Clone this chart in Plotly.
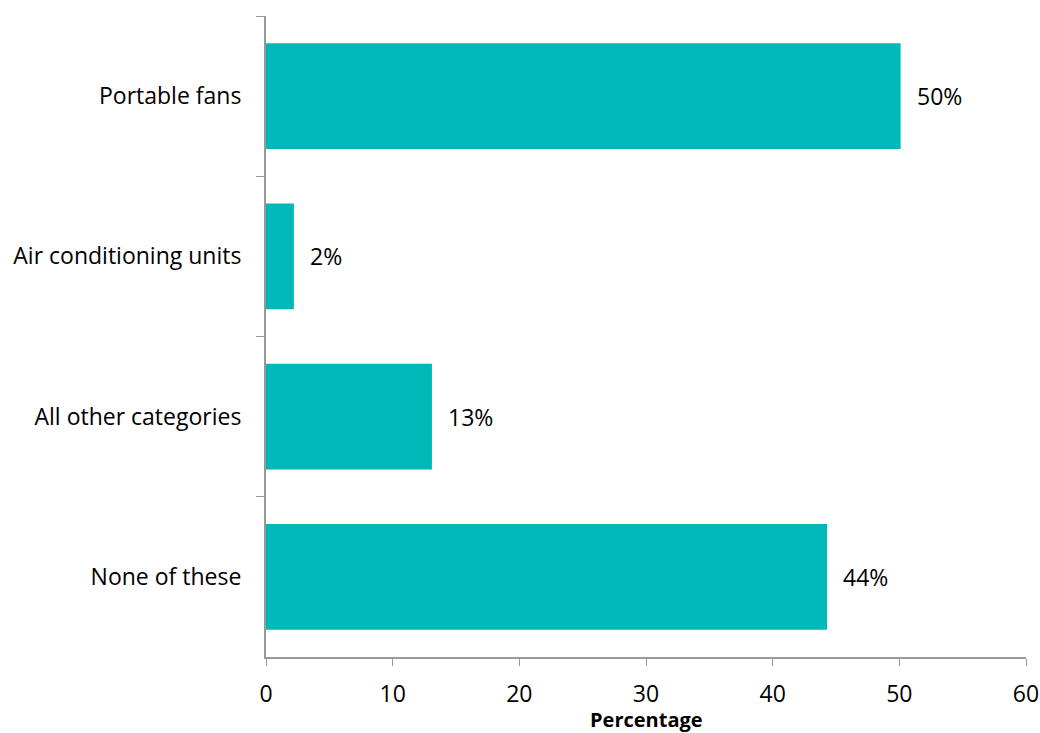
import plotly.graph_objects as go

categories = ["Portable fans", "Air conditioning units", "All other categories", "None of these"]
values = [50.1, 2.2, 13.1, 44.3]
labels = ["50%", "2%", "13%", "44%"]
x_ticks = [0, 10, 20, 30, 40, 50, 60]
x_title = "Percentage"

FONT = "Open Sans"
COLOR = "#00B8B8"
SIZE = 23

fig = go.Figure(go.Bar(
    y=categories,
    x=values,
    orientation="h",
    marker=dict(color=COLOR, line=dict(width=0)),
    width=0.66,
    cliponaxis=False,
))

for c, v, t in zip(categories, values, labels):
    fig.add_annotation(x=v, y=c, text=t, showarrow=False, xanchor="left",
                       xshift=14, font=dict(family=FONT, size=SIZE, color="#000000"))

fig.add_annotation(x=0.5, y=0, xref="paper", yref="paper", text="<b>" + x_title + "</b>",
                   showarrow=False, xanchor="center", yanchor="top", yshift=-47,
                   font=dict(family=FONT, size=20, color="#000000"))

fig.update_layout(
    width=1040, height=733,
    margin=dict(l=266, r=14, t=16, b=76),
    paper_bgcolor="white", plot_bgcolor="white",
    showlegend=False,
    font=dict(family=FONT, size=SIZE, color="#000000"),
    xaxis=dict(
        range=[0, 60], tickvals=x_ticks, ticks="outside", ticklen=7,
        tickcolor="#999999", showline=True, linecolor="#999999", linewidth=2,
        showgrid=False, zeroline=False, automargin=False,
        ticklabelstandoff=8,
    ),
    yaxis=dict(
        autorange="reversed", type="category", tickson="boundaries",
        ticks="outside", ticklen=8, tickcolor="#999999", automargin=False,
        showline=True, linecolor="#999999", linewidth=2, showgrid=False,
        ticklabelstandoff=18,
    ),
)

fig.write_html("out.html")
